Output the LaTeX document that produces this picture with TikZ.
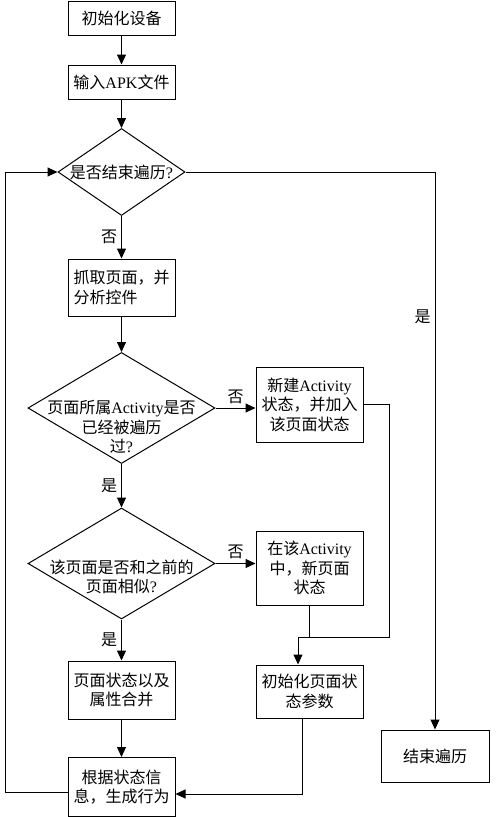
\documentclass[tikz,border=0pt]{standalone}
\usepackage{fontspec}
\setmainfont{Noto Sans CJK SC}
\newfontfamily\latin{Liberation Serif}
\newcommand{\en}[1]{{\latin #1}}
\usetikzlibrary{shapes.geometric,arrows.meta}

\begin{document}
\begin{tikzpicture}[x=1pt, y=-1pt, align=center,
    font=\fontsize{16}{19.5}\selectfont,
    proc/.style={draw, line width=1pt, inner sep=0pt, minimum width=107pt},
    dec/.style={draw, diamond, line width=1pt, inner sep=0pt},
    arr/.style={line width=1pt, -{Triangle[length=10pt,width=9pt]}},
    lbl/.style={inner sep=4pt}]
      \useasboundingbox (0,0) rectangle (500,817);

      % main column
      \node[proc, minimum height=34pt] (Init) at (121.5,18) {初始化设备};
      \node[proc, minimum height=34pt] (Apk) at (121.5,82) {输入\en{APK}文件};
      \node[dec, minimum width=127pt, minimum height=87pt] (Q1) at (121.5,172) {};
      \node (Q1t) at (Q1) {是否结束遍历\en{?}};
      \node[proc, minimum height=57pt, align=left] (Grab) at (121.5,287.5) {抓取页面，并\\分析控件};
      \node[dec, minimum width=187pt, minimum height=111pt] (Q2) at (121.5,408) {};
      \node (Q2t) at (121.5,427) {页面所属\en{Activity}是否\\已经被遍历\\过\en{?}};
      \node[dec, minimum width=187pt, minimum height=111pt] (Q3) at (121.5,563.5) {};
      \node (Q3t) at (121.5,577) {该页面是否和之前的\\页面相似\en{?}};
      \node[proc, minimum height=58pt] (Merge) at (121.5,690) {页面状态以及\\属性合并};
      \node[proc, minimum height=59pt] (Gen) at (121.5,787) {根据状态信\\息，生成行为};

      % right side
      \node[proc, minimum height=75pt] (NewAct) at (309.5,404.5) {新建\en{Activity}\\状态，并加入\\该页面状态};
      \node[proc, minimum height=74pt] (InAct) at (309.5,568) {在该\en{Activity}\\中，新页面\\状态};
      \node[proc, minimum height=53pt] (InitS) at (309.5,691.5) {初始化页面状\\态参数};
      \node[proc, minimum width=108pt, minimum height=52pt] (End) at (435,756) {结束遍历};

      \coordinate (R1) at (389,637);
      \coordinate (J) at (298,637);
      \coordinate (L) at (5,172);
      \coordinate (E1) at (435,172);

      \draw[arr] (Init) -- (Apk);
      \draw[arr] (Apk) -- (Q1);
      \draw[arr] (Q1) -- node[lbl, left] (No1) {否} (Grab);
      \draw[arr] (Grab) -- (Q2);
      \draw[arr] (Q2.east) -- node[lbl, above] (No2) {否} (Q2.east -| NewAct.west);
      \draw[arr] (Q2) -- node[lbl, left] (Yes2) {是} (Q3);
      \draw[arr] (Q3.east) -- node[lbl, above] (No3) {否} (Q3.east -| InAct.west);
      \draw[arr] (Q3) -- node[lbl, left] (Yes3) {是} (Merge);
      \draw[arr] (Merge) -- (Gen);

      \draw[arr] (NewAct.east) -| (R1) -- (J) -- (J |- InitS.north);
      \draw[line width=1pt] (InAct.south) -- (InAct.south |- J);
      \draw[arr] ([xshift=-7.5pt]InitS.south) |- ([yshift=-7pt]Gen.east);

      % loop back and exit
      \draw[arr] ([yshift=-5pt]Gen.west) -| (L) -- (Q1.west);
      \draw[arr] (Q1.east) -- (E1) -- node[lbl, left, pos=0.26] (Yes1) {是} (End);
    \end{tikzpicture}
\end{document}
